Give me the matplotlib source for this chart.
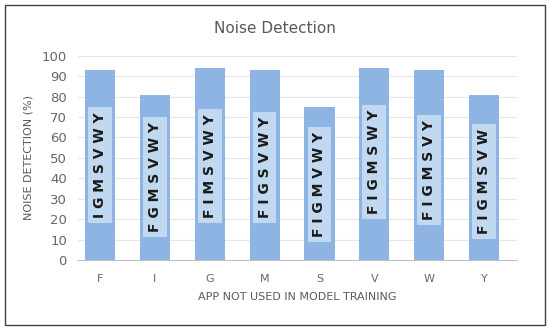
import matplotlib
matplotlib.use("Agg")
import matplotlib.pyplot as plt
from matplotlib.patches import Rectangle

apps = ["F", "I", "G", "M", "S", "V", "W", "Y"]
detection = [93, 81, 94, 93, 75, 94, 93, 81]
train_sets = ["IGMSVWY", "FGMSVWY", "FIMSVWY", "FIGSVWY", "FIGMVWY", "FIGMSWY", "FIGMSVY", "FIGMSVW"]
label_centers = [46.5, 40.5, 46, 45.5, 37, 48, 44, 38.5]

fig = plt.figure(figsize=(5.5, 3.31), dpi=100)
fig.patch.set_facecolor("white")
fig.add_artist(Rectangle((0.009, 0.018), 0.981, 0.968, transform=fig.transFigure,
                         fill=False, edgecolor="#404040", linewidth=1.0))

ax = fig.add_axes([0.142, 0.2145, 0.798, 0.617])
x = range(len(apps))
ax.bar(x, detection, width=0.55, color="#8DB4E2", zorder=2)
for i, (s, c) in enumerate(zip(train_sets, label_centers)):
    ax.text(i, c, " ".join(s), rotation=90, ha="center", va="center",
            fontsize=10, fontweight="bold", color="#1a1a1a", zorder=3,
            bbox=dict(boxstyle="square,pad=0.35", facecolor="#C0D8F0", edgecolor="none"))

ax.set_ylim(0, 100)
ax.set_xlim(-0.4, 7.6)
ax.set_yticks(range(0, 101, 10))
ax.set_xticks(list(x))
ax.set_xticklabels(apps)
ax.grid(axis="y", color="#E6E6E6", linewidth=0.8, zorder=0)
ax.set_axisbelow(True)
for sp in ["top", "right", "left"]:
    ax.spines[sp].set_visible(False)
ax.spines["bottom"].set_color("#BFBFBF")
ax.tick_params(axis="both", length=0, colors="#666666")
ax.tick_params(axis="y", labelsize=9.5, pad=8)
ax.tick_params(axis="x", labelsize=8, pad=10)
ax.set_xlabel("APP NOT USED IN MODEL TRAINING", fontsize=8, color="#595959", labelpad=6)
ax.set_ylabel("NOISE DETECTION (%)", fontsize=8, color="#595959", labelpad=6)
fig.text(0.5, 0.915, "Noise Detection", ha="center", va="center", fontsize=11, color="#595959")

fig.savefig("out.png", dpi=100)
